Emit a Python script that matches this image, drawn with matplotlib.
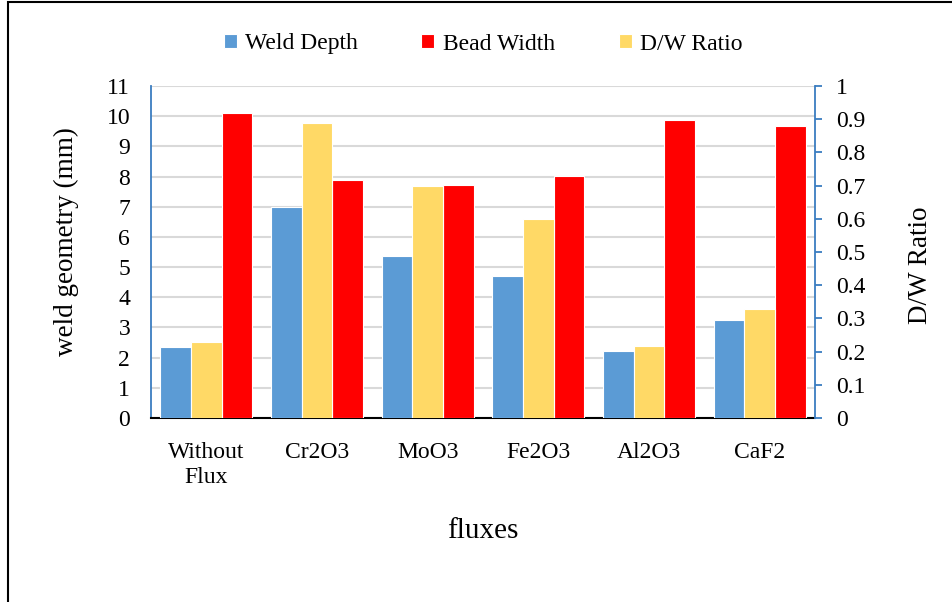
#!/usr/bin/env python3
"""
Weld geometry per flux: depth and width on the left axis, D/W ratio on the right.
"""

import matplotlib
matplotlib.use("Agg")
import numpy as np
import matplotlib.pyplot as plt
from matplotlib.patches import Rectangle

# Data
fluxes = ["Without\nFlux", "Cr2O3", "MoO3", "Fe2O3", "Al2O3", "CaF2"]
weld_depth = [2.35, 7.0, 5.38, 4.72, 2.21, 3.24]
bead_width = [10.09, 7.88, 7.73, 8.03, 9.86, 9.68]
dw_ratio = [0.229, 0.888, 0.698, 0.598, 0.217, 0.328]

left_ticks = list(range(0, 12))
right_ticks = [0, 0.1, 0.2, 0.3, 0.4, 0.5, 0.6, 0.7, 0.8, 0.9, 1]
right_labels = ["0", "0.1", "0.2", "0.3", "0.4", "0.5", "0.6", "0.7", "0.8", "0.9", "1"]

BLUE = "#5B9BD5"
RED = "#FF0000"
YELLOW = "#FFD966"
AXIS_BLUE = "#3A7DC0"
GRID = "#D9D9D9"

plt.rcParams["font.family"] = ["Liberation Serif", "DejaVu Serif"]

fig = plt.figure(figsize=(9.53, 6.02), dpi=100)
ax = fig.add_axes([151 / 953, 1 - 418 / 602, 664 / 953, 332 / 602])
ax2 = ax.twinx()

x = np.arange(len(fluxes))
w = 0.278

b1 = ax.bar(x - w, weld_depth, w, color=BLUE, edgecolor="white", linewidth=0.8,
            label="Weld Depth", zorder=3)
b2 = ax.bar(x + w, bead_width, w, color=RED, edgecolor="white", linewidth=0.8,
            label="Bead Width", zorder=3)
b3 = ax2.bar(x, dw_ratio, w, color=YELLOW, edgecolor="white", linewidth=0.8,
             label="D/W Ratio", zorder=3)

# left axis
ax.set_xlim(-0.5, len(fluxes) - 0.5)
ax.set_ylim(0, 11)
ax.set_yticks(left_ticks)
ax.tick_params(axis="y", length=0, pad=15, labelsize=17)
ax.yaxis.grid(True, color=GRID, linewidth=1.5, zorder=0)
ax.set_axisbelow(True)
ax.set_xticks(x)
ax.set_xticklabels(fluxes, fontsize=17, linespacing=1.25)
ax.tick_params(axis="x", length=0, pad=17)
ax.set_ylabel("weld geometry (mm)", fontsize=19.5)
ax.yaxis.set_label_coords(-0.108, 0.532)
ax.set_xlabel("fluxes", fontsize=21)
ax.xaxis.set_label_coords(0.5, -0.30)

for s in ["top", "right"]:
    ax.spines[s].set_visible(False)
ax.spines["left"].set_color(AXIS_BLUE)
ax.spines["left"].set_linewidth(1.3)
ax.spines["bottom"].set_color("black")
ax.spines["bottom"].set_linewidth(1.5)

# right axis
ax2.set_ylim(0, 1)
ax2.set_yticks(right_ticks)
ax2.set_yticklabels(right_labels)
ax2.tick_params(axis="y", direction="out", length=5, width=1.3, color=AXIS_BLUE,
                pad=10, labelsize=17)
ax2.set_ylabel("D/W Ratio", fontsize=19.5)
ax2.yaxis.set_label_coords(1.14, 0.46)
for s in ["top", "left", "bottom"]:
    ax2.spines[s].set_visible(False)
ax2.spines["right"].set_color(AXIS_BLUE)
ax2.spines["right"].set_linewidth(1.3)

fig.legend(handles=[b1, b2, b3], labels=["Weld Depth", "Bead Width", "D/W Ratio"],
           loc="center", bbox_to_anchor=(483 / 953, 1 - 44 / 602), ncol=3,
           frameon=False, fontsize=17, handlelength=0.55, handleheight=0.55,
           handletextpad=0.35, columnspacing=2.7)

# outer frame
fig.patches.append(Rectangle((8 / 953, -0.1), 1.2, 1 - 2 / 602 + 0.1,
                             transform=fig.transFigure, fill=False,
                             edgecolor="black", linewidth=1.5))

fig.savefig("out.png", dpi=100)
